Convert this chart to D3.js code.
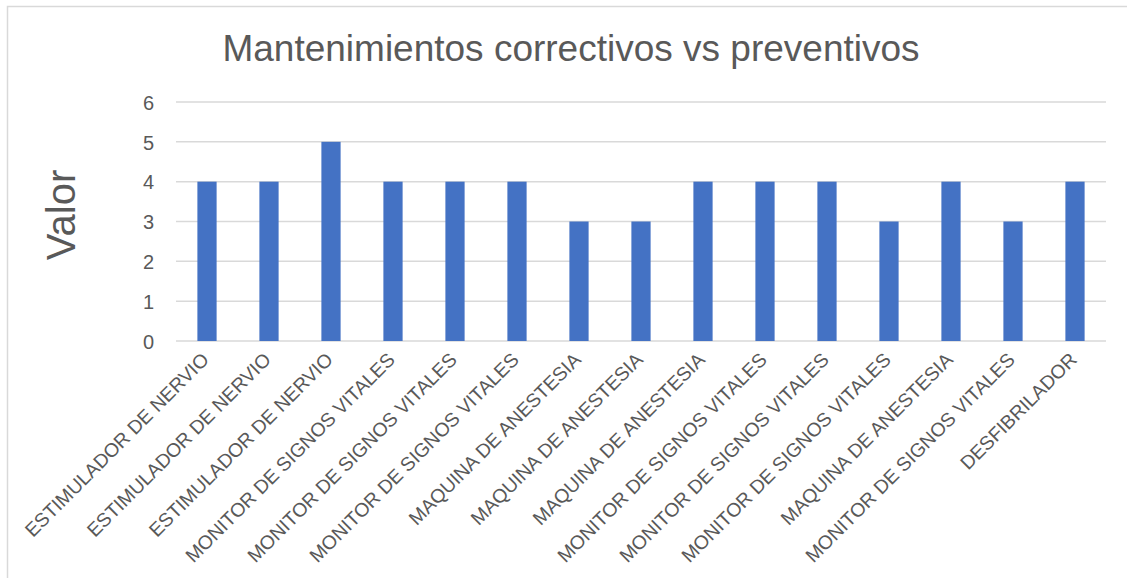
<!DOCTYPE html>
<html><head><meta charset="utf-8">
<script src="https://cdn.jsdelivr.net/npm/d3@7"></script>
<style>
html,body{margin:0;padding:0;background:#fff;}
svg{display:block;font-family:"Liberation Sans",Arial,sans-serif;}
</style></head>
<body><svg id="c" width="1127" height="578"></svg>
<script>
const categories = ["ESTIMULADOR DE NERVIO","ESTIMULADOR DE NERVIO","ESTIMULADOR DE NERVIO",
 "MONITOR DE SIGNOS VITALES","MONITOR DE SIGNOS VITALES","MONITOR DE SIGNOS VITALES",
 "MAQUINA DE ANESTESIA","MAQUINA DE ANESTESIA","MAQUINA DE ANESTESIA",
 "MONITOR DE SIGNOS VITALES","MONITOR DE SIGNOS VITALES","MONITOR DE SIGNOS VITALES",
 "MAQUINA DE ANESTESIA","MONITOR DE SIGNOS VITALES","DESFIBRILADOR"];
const values = [4,4,5,4,4,4,3,3,4,4,4,3,4,3,4];
const yTicks = [0,1,2,3,4,5,6];
const title = "Mantenimientos correctivos vs preventivos";
const yLabel = "Valor";

(function(){
const svg = d3.select("#c");
const textColor = "#595959";
svg.append("path").attr("d","M7.5,578 L7.5,6.5 L1127,6.5").attr("fill","none").attr("stroke","#d9d9d9").attr("stroke-width",1.5);

const pL=176, pR=1106, pT=102, pB=341;
const idx = categories.map((d,i)=>i);
const x = d3.scaleBand().domain(idx).range([pL,pR]).paddingInner(0.69).paddingOuter(0.345);
const y = d3.scaleLinear().domain([0,6]).range([pB,pT]);

svg.append("g").selectAll("line").data(yTicks).join("line")
  .attr("x1",pL).attr("x2",pR).attr("y1",d=>y(d)).attr("y2",d=>y(d))
  .attr("stroke","#d9d9d9").attr("stroke-width",1.5);

const yAxis = d3.axisLeft(y).tickValues(yTicks).tickSize(0).tickPadding(0).tickFormat(d3.format("d"));
const gy = svg.append("g").attr("transform",`translate(154,0)`).call(yAxis);
gy.select(".domain").remove();
gy.selectAll("text").attr("fill",textColor).attr("font-size",20).attr("font-family","Liberation Sans, Arial, sans-serif").attr("dy","0.36em");

svg.append("g").selectAll("rect").data(values).join("rect")
  .attr("x",(d,i)=>x(i)).attr("width",x.bandwidth())
  .attr("y",d=>y(d)).attr("height",d=>y(0)-y(d))
  .attr("fill","#4472c4");

const xAxis = d3.axisBottom(x).tickSize(0).tickPadding(0).tickFormat(i=>categories[i]);
const gx = svg.append("g").attr("transform",`translate(0,${pB})`).call(xAxis);
gx.select(".domain").remove();
gx.selectAll("text").attr("fill",textColor).attr("font-size",19.3).attr("font-family","Liberation Sans, Arial, sans-serif")
  .attr("text-anchor","end").attr("dy",null).attr("y",null)
  .attr("transform","translate(3,20) rotate(-45)");

svg.append("text").attr("x",571).attr("y",61).attr("text-anchor","middle")
  .attr("font-size",37).attr("fill",textColor).text(title);

svg.append("text").attr("transform","translate(75,215) rotate(-90)").attr("text-anchor","middle")
  .attr("font-size",40).attr("fill",textColor).text(yLabel);
})();
</script></body></html>
